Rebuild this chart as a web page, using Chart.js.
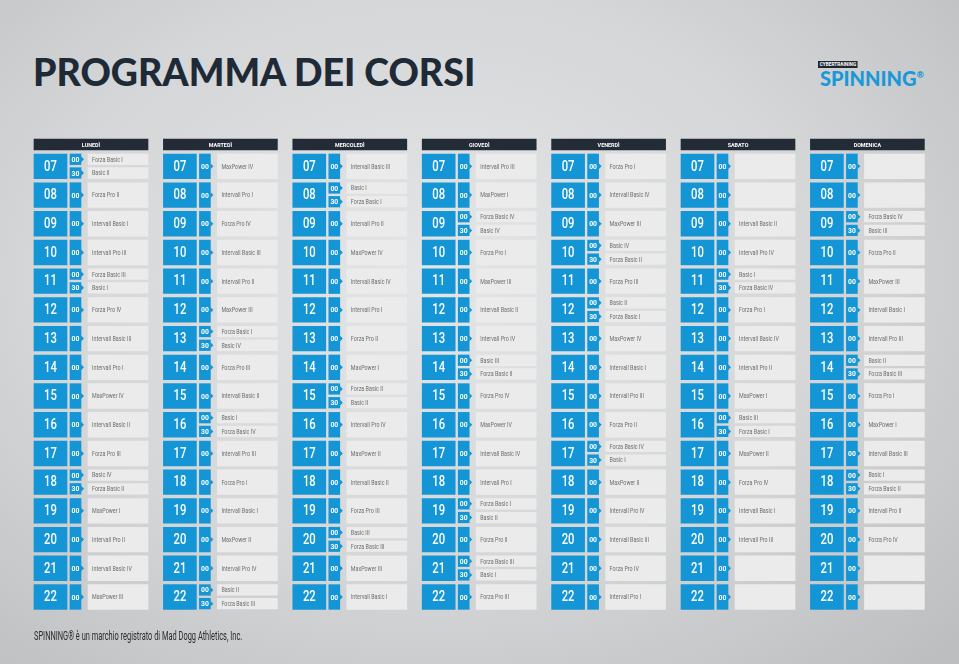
<!DOCTYPE html>
<html>
<head>
<meta charset="utf-8">
<script src="https://cdn.jsdelivr.net/npm/chart.js@4.4.0/dist/chart.umd.min.js"></script>
<style>
html, body { margin: 0; padding: 0; }
body {
    width: 959px; height: 664px; position: relative; overflow: hidden;
    background: radial-gradient(ellipse 75% 80% at 45% 42%, #e4e5e6 0%, #d5d6d7 55%, #bdbebf 100%);
}
#title {
    position: absolute; left: 33px; top: 53px; margin: 0;
    font: 900 37.5px/1 Lato, "Open Sans", sans-serif; color: #1f2a37; white-space: nowrap;
}
#logoTag {
    position: absolute; left: 818px; top: 61px; height: 7px; padding: 0 2px;
    background: #1f2733; color: #fff; font: bold 5.5px/7px Roboto, sans-serif;
    transform: scaleX(0.86); transform-origin: left top;
}
#logo {
    position: absolute; left: 820px; top: 68px;
    font: 900 20px/1 Lato, sans-serif; color: #1a98d8; white-space: nowrap;
}
#logo sup { font-size: 9px; vertical-align: 8px; }
#footer {
    position: absolute; left: 34px; top: 630px;
    font: 12px/1 Roboto, sans-serif; color: #2a2a2a; white-space: nowrap;
    transform: scaleX(0.62); transform-origin: left top;
}
#chart { position: absolute; left: 0; top: 0; }
</style>
</head>
<body>
<div id="title">PROGRAMMA DEI CORSI</div>
<div id="logoTag">CYBERTRAINING</div>
<div id="logo">SPINNING<sup>®</sup></div>
<canvas id="chart" width="959" height="664"></canvas>
<div id="footer">SPINNING® è un marchio registrato di Mad Dogg Athletics, Inc.</div>
<script>
// Days and hours
const days = ['LUNEDÌ', 'MARTEDÌ', 'MERCOLEDÌ', 'GIOVEDÌ', 'VENERDÌ', 'SABATO', 'DOMENICA'];
const hours = [7, 8, 9, 10, 11, 12, 13, 14, 15, 16, 17, 18, 19, 20, 21, 22];

// One entry per hour: a class at :00, a pair [:00, :30], or '' for an empty slot
const lunedi = [
    ['Forza Basic I', 'Basic II'], 'Forza Pro II', 'Intervall Basic I', 'Intervall Pro III',
    ['Forza Basic III', 'Basic I'], 'Forza Pro IV', 'Intervall Basic III', 'Intervall Pro I',
    'MaxPower IV', 'Intervall Basic II', 'Forza Pro III', ['Basic IV', 'Forza Basic II'],
    'MaxPower I', 'Intervall Pro II', 'Intervall Basic IV', 'MaxPower III'
];
const martedi = [
    'MaxPower IV', 'Intervall Pro I', 'Forza Pro IV', 'Intervall Basic III',
    'Intervall Pro II', 'MaxPower III', ['Forza Basic I', 'Basic IV'], 'Forza Pro III',
    'Intervall Basic II', ['Basic I', 'Forza Basic IV'], 'Intervall Pro III', 'Forza Pro I',
    'Intervall Basic I', 'MaxPower II', 'Intervall Pro IV', ['Basic II', 'Forza Basic III']
];
const mercoledi = [
    'Intervall Basic III', ['Basic I', 'Forza Basic I'], 'Intervall Pro II', 'MaxPower IV',
    'Intervall Basic IV', 'Intervall Pro I', 'Forza Pro II', 'MaxPower I',
    ['Forza Basic II', 'Basic II'], 'Intervall Pro IV', 'MaxPower II', 'Intervall Basic II',
    'Forza Pro III', ['Basic III', 'Forza Basic III'], 'MaxPower III', 'Intervall Basic I'
];
const giovedi = [
    'Intervall Pro III', 'MaxPower I', ['Forza Basic IV', 'Basic IV'], 'Forza Pro I',
    'MaxPower III', 'Intervall Basic II', 'Intervall Pro IV', ['Basic III', 'Forza Basic II'],
    'Forza Pro IV', 'MaxPower IV', 'Intervall Basic IV', 'Intervall Pro I',
    ['Forza Basic I', 'Basic II'], 'Forza Pro II', ['Forza Basic III', 'Basic I'], 'Forza Pro III'
];
const venerdi = [
    'Forza Pro I', 'Intervall Basic IV', 'MaxPower III', ['Basic IV', 'Forza Basic II'],
    'Forza Pro III', ['Basic II', 'Forza Basic I'], 'MaxPower IV', 'Intervall Basic I',
    'Intervall Pro III', 'Forza Pro II', ['Forza Basic IV', 'Basic I'], 'MaxPower II',
    'Intervall Pro IV', 'Intervall Basic III', 'Forza Pro IV', 'Intervall Pro I'
];
const sabato = [
    '', '', 'Intervall Basic II', 'Intervall Pro IV',
    ['Basic I', 'Forza Basic IV'], 'Forza Pro I', 'Intervall Basic IV', 'Intervall Pro II',
    'MaxPower I', ['Basic III', 'Forza Basic I'], 'MaxPower II', 'Forza Pro IV',
    'Intervall Basic I', 'Intervall Pro III', '', ''
];
const domenica = [
    '', '', ['Forza Basic IV', 'Basic III'], 'Forza Pro II',
    'MaxPower III', 'Intervall Basic I', 'Intervall Pro III', ['Basic II', 'Forza Basic III'],
    'Forza Pro I', 'MaxPower I', 'Intervall Basic III', ['Basic I', 'Forza Basic II'],
    'Intervall Pro II', 'Forza Pro IV', '', ''
];
const schedule = [lunedi, martedi, mercoledi, giovedi, venerdi, sabato, domenica];

// Layout (pixels of the 959x664 page)
const COL_PX = 129.4;      // column pitch
const ROW_PX = 28.71;      // hour pitch
const LEFT_PX = 34;        // left edge of first column
const TOP_PX = 154;        // top edge of the 07 row
const colUnits = v => v / COL_PX;
const rowUnits = v => v / ROW_PX;

const BLUE = '#1496d6';
const DARK = '#222b36';
const CELL = '#ebebeb';
const FONT = 'Roboto, "Open Sans", sans-serif';

const FULL_H = 24.7;
const HALF_H = 10.6;
const yFull = rowUnits(FULL_H / 2);
const yHalf0 = rowUnits(5.3);
const yHalf30 = rowUnits(19);

function buildDatasets() {
    const header = { data: [], texts: [] };
    const hourBox = { data: [], texts: [] };
    const minFull = { data: [], texts: [] };
    const minHalf = { data: [], texts: [] };
    const clsFull = { data: [], texts: [] };
    const clsHalf = { data: [], texts: [] };

    days.forEach((day, d) => {
        header.data.push({ y: 7 - rowUnits(9.5), x: [d, d + colUnits(114)] });
        header.texts.push(day);
        hours.forEach((h, r) => {
            const slot = schedule[d][r];
            hourBox.data.push({ y: h + yFull, x: [d, d + colUnits(33)] });
            hourBox.texts.push(String(h).padStart(2, '0'));
            if (Array.isArray(slot)) {
                minHalf.data.push({ y: h + yHalf0, x: [d + colUnits(36), d + colUnits(47)] });
                minHalf.texts.push('00');
                minHalf.data.push({ y: h + yHalf30, x: [d + colUnits(36), d + colUnits(47)] });
                minHalf.texts.push('30');
                clsHalf.data.push({ y: h + yHalf0, x: [d + colUnits(54), d + colUnits(114)] });
                clsHalf.texts.push(slot[0]);
                clsHalf.data.push({ y: h + yHalf30, x: [d + colUnits(54), d + colUnits(114)] });
                clsHalf.texts.push(slot[1]);
            } else {
                minFull.data.push({ y: h + yFull, x: [d + colUnits(36), d + colUnits(47)] });
                minFull.texts.push('00');
                clsFull.data.push({ y: h + yFull, x: [d + colUnits(54), d + colUnits(114)] });
                clsFull.texts.push(slot);
            }
        });
    });

    return [
        Object.assign(header, { label: 'giorni', backgroundColor: DARK, barThickness: 11,
            textFont: 'bold 6px ' + FONT, textColor: '#ffffff', textAlign: 'center', textScale: 0.9 }),
        Object.assign(hourBox, { label: 'ore', backgroundColor: BLUE, barThickness: FULL_H,
            textFont: '500 15px ' + FONT, textColor: '#ffffff', textAlign: 'center', textScale: 0.75 }),
        Object.assign(minFull, { label: 'minuti', backgroundColor: BLUE, barThickness: FULL_H, arrow: true,
            textFont: 'bold 8px ' + FONT, textColor: '#ffffff', textAlign: 'center', textScale: 0.85 }),
        Object.assign(minHalf, { label: 'minuti ½', backgroundColor: BLUE, barThickness: HALF_H, arrow: true,
            textFont: 'bold 8px ' + FONT, textColor: '#ffffff', textAlign: 'center', textScale: 0.85 }),
        Object.assign(clsFull, { label: 'corsi', backgroundColor: CELL, barThickness: FULL_H,
            textFont: '7.5px ' + FONT, textColor: '#6e6e6e', textAlign: 'left', textScale: 0.72 }),
        Object.assign(clsHalf, { label: 'corsi ½', backgroundColor: CELL, barThickness: HALF_H,
            textFont: '7.5px ' + FONT, textColor: '#6e6e6e', textAlign: 'left', textScale: 0.72 })
    ].map(ds => Object.assign(ds, { stack: 'griglia', borderWidth: 0, borderRadius: 0 }));
}

// Writes the labels and minute arrows on top of the bars
const cellText = {
    id: 'cellText',
    afterDatasetsDraw(chart) {
        const ctx = chart.ctx;
        chart.data.datasets.forEach((ds, i) => {
            const meta = chart.getDatasetMeta(i);
            meta.data.forEach((el, j) => {
                const { x, base, y } = el.getProps(['x', 'base', 'y'], true);
                if (ds.arrow) {
                    ctx.fillStyle = ds.backgroundColor;
                    ctx.beginPath();
                    ctx.moveTo(x, y - 3);
                    ctx.lineTo(x + 3, y);
                    ctx.lineTo(x, y + 3);
                    ctx.closePath();
                    ctx.fill();
                }
                const t = ds.texts[j];
                if (!t) return;
                const tx = ds.textAlign === 'center' ? (x + base) / 2 : base + 4;
                ctx.save();
                ctx.translate(tx, y + 0.5);
                ctx.scale(ds.textScale, 1);
                ctx.font = ds.textFont;
                ctx.fillStyle = ds.textColor;
                ctx.textBaseline = 'middle';
                ctx.textAlign = ds.textAlign;
                ctx.fillText(t, 0, 0);
                ctx.restore();
            });
        });
    }
};

new Chart(document.getElementById('chart'), {
    type: 'bar',
    data: { datasets: buildDatasets() },
    options: {
        indexAxis: 'y',
        responsive: false,
        animation: false,
        layout: { padding: 0 },
        plugins: { legend: { display: false }, tooltip: { enabled: false } },
        scales: {
            x: {
                type: 'linear', display: false, stacked: false, offset: false,
                min: -LEFT_PX / COL_PX, max: (959 - LEFT_PX) / COL_PX
            },
            y: {
                type: 'linear', display: false, reverse: true, offset: false,
                min: 7 - TOP_PX / ROW_PX, max: 7 + (664 - TOP_PX) / ROW_PX
            }
        }
    },
    plugins: [cellText]
});
</script>
</body>
</html>
